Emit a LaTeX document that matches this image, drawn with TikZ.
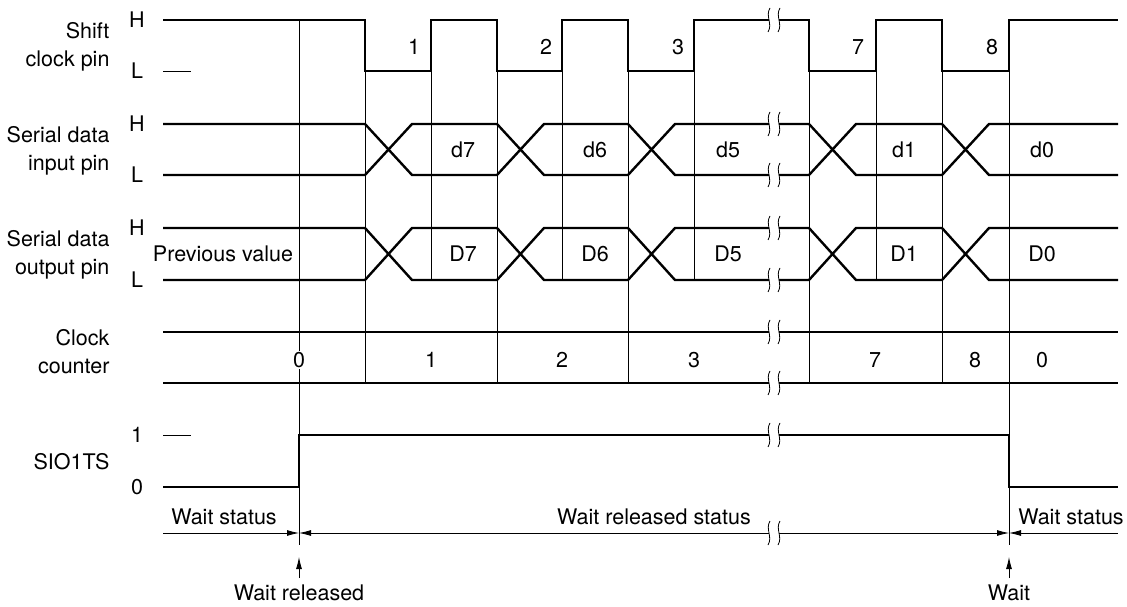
\documentclass[tikz,border=0pt]{standalone}
\usepackage{fontspec}
\setmainfont{TeX Gyre Heros}
\usepackage{tikz}
\usetikzlibrary{arrows.meta}

\tikzset{
  sig/.style={line width=2.4pt,line join=miter},
  guide/.style={line width=0.8pt},
  lbl/.style={anchor=east,align=right},
}

\begin{document}
\begin{tikzpicture}[x=1pt,y=-1pt,>={Latex[length=12pt,width=6pt]},font=\fontsize{21.5}{28}\selectfont]
\useasboundingbox (0,0) rectangle (1127,607);
% guide lines
\draw[guide] (299,20)--(299,545);
\draw[guide] (1009,71)--(1009,545);
\foreach \x in {365,497,628,809,942} \draw[guide] (\x,71)--(\x,383);
\foreach \x in {431,562,694,876} \draw[guide] (\x,71)--(\x,280);
% shift clock
\draw[sig] (163,20)--(365,20)--(365,71)--(431,71)--(431,20)--(497,20)--(497,71)--(562,71)--(562,20)--(628,20)--(628,71)--(694,71)--(694,20)--(769,20)
  (779,20)--(809,20)--(809,71)--(876,71)--(876,20)--(942,20)--(942,71)--(1009,71)--(1009,20)--(1118,20);
% serial data in/out
\foreach \h/\l in {124/175,228/280}{
  \draw[sig] (163,\h)--(365,\h)--(412,\l)--(497,\l)--(544,\h)--(628,\h)--(675,\l)--(769,\l)
    (779,\l)--(809,\l)--(856,\h)--(942,\h)--(989,\l)--(1118,\l);
  \draw[sig] (163,\l)--(365,\l)--(412,\h)--(497,\h)--(544,\l)--(628,\l)--(675,\h)--(769,\h)
    (779,\h)--(809,\h)--(856,\l)--(942,\l)--(989,\h)--(1118,\h);
}
% clock counter
\foreach \y in {332,383} \draw[sig] (163,\y)--(769,\y) (779,\y)--(1118,\y);
% SIO1TS
\draw[sig] (163,487)--(299,487)--(299,435)--(769,435) (779,435)--(1009,435)--(1009,487)--(1118,487);
\draw[guide] (163,71)--(191,71) (163,435)--(191,435);
% status line
\draw[guide,->] (163,533)--(299,533);
\draw[guide,<-] (299,533)--(769,533);
\draw[guide,->] (779,533)--(1009,533);
\draw[guide,<-] (1009,533)--(1118,533);
\draw[guide,->] (299,578)--(299,557);
\draw[guide,->] (1009,578)--(1009,557);
% breaks
\foreach \y in {20,124,175,228,280,332,383,435,533}
  \foreach \c in {769,779}
    \draw[guide] (\c+1,\y-12) .. controls (\c-4,\y-4) and (\c+4,\y+4) .. (\c-1,\y+12);

% labels
\node[lbl] (shift) at (113,47) {Shift\\clock pin};
\node[lbl] (sin) at (113,151) {Serial data\\input pin};
\node[lbl] (sout) at (113,255) {Serial data\\output pin};
\node[lbl] (cnt) at (113,352) {Clock\\counter};
\node[lbl] (sio) at (113,462) {SIO1TS};
\foreach \y/\t in {20/H,71/L,124/H,175/L,228/H,280/L,435/1,487/0}
  \node (lv\y) at (137,\y) {\t};
\foreach \x/\n in {414/1,546/2,678/3,858/7,992/8}
  \node (p\n) at (\x,47) {\n};
\foreach \x/\n in {463/7,595/6,728/5,904/1,1042/0}{
  \node (in\n) at (\x,150) {d\n};
  \node (out\n) at (\x,254) {D\n};
}
\node (prev) at (223,254) {Previous value};
\node[fill=white,inner sep=1pt] (c0) at (299,360) {0};
\foreach \x/\n [count=\i] in {431/1,562/2,694/3,875/7,975/8,1042/0}
  \node (c\i) at (\x,360) {\n};
\node (ws1) at (224,517) {Wait status};
\node (wrs) at (654,517) {Wait released status};
\node (ws2) at (1071,517) {Wait status};
\node (wr) at (299,593) {Wait released};
\node (wt) at (1009,593) {Wait};
\end{tikzpicture}
\end{document}
